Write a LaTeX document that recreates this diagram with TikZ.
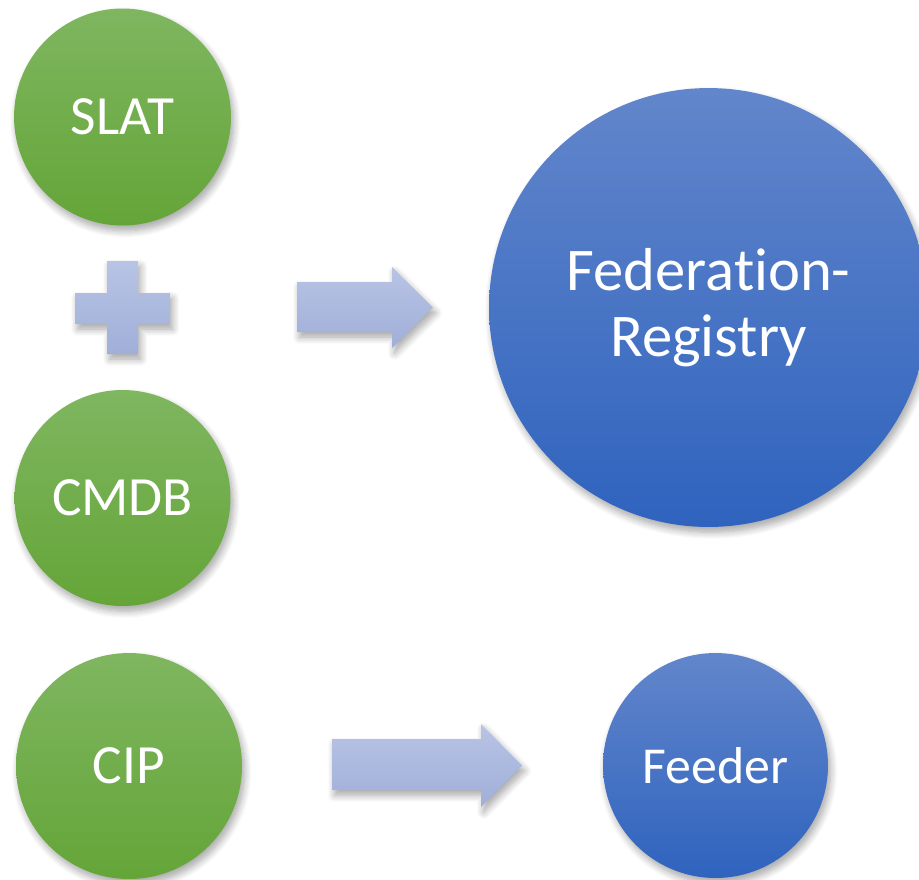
\documentclass[tikz,border=0pt]{standalone}
\usepackage{fontspec}
\setmainfont{Carlito}[Ligatures = NoCommon]
\usepackage{tikz}
\usetikzlibrary{shadows.blur}
\tikzset{>=latex}
\definecolor{mygreen1}{RGB}{127, 182, 96}
\definecolor{mygreen2}{RGB}{100, 165, 56}
\definecolor{myblue1}{RGB}{98, 134, 203}
\definecolor{myblue2}{RGB}{47, 99, 190}
\definecolor{mylav1}{RGB}{184, 196, 229}
\definecolor{mylav2}{RGB}{160, 175, 217}
\tikzset{
  softshadow/.style = {blur shadow = {shadow xshift = 1.5pt, shadow yshift = -3pt, shadow blur radius = 4pt, shadow blur steps = 8, shadow opacity = 35}},
  greenball/.style = {circle, inner sep = 0pt, top color = mygreen1, bottom color = mygreen2, text = white, font = \fontsize{31.5}{36}\selectfont, softshadow},
  blueball/.style = {circle, inner sep = 0pt, top color = myblue1, bottom color = myblue2, text = white, softshadow},
  bigarrow/.style = {top color = mylav1, bottom color = mylav2, softshadow}
}

\begin{document}
\begin{tikzpicture}[x = 0.02cm, y = -0.02cm]
\useasboundingbox (0, 0) rectangle (919, 879);
% sources
\node[greenball, minimum size = 4.34cm] (slat) at (122.5, 117) {SLAT};
\node[greenball, minimum size = 4.32cm] (cmdb) at (122.5, 498) {CMDB};
\node[greenball, minimum size = 4.52cm] (cip) at (129, 766) {CIP};
% plus sign
\shade[bigarrow] (107, 261) -- (138, 261) -- (138, 293) -- (170, 293) -- (170, 324) -- (138, 324) -- (138, 354) -- (107, 354) -- (107, 324) -- (75, 324) -- (75, 293) -- (107, 293) -- cycle;
% block arrows
\shade[bigarrow] (297, 282) -- (392, 282) -- (392, 267) -- (433, 307.5) -- (392, 348) -- (392, 332) -- (297, 332) -- cycle;
\shade[bigarrow] (332, 739) -- (481, 739) -- (481, 724) -- (522, 765.5) -- (481, 807) -- (481, 790) -- (332, 790) -- cycle;
% targets
\node[blueball, minimum size = 8.78cm, align = center, font = \fontsize{34.5}{37.5}\selectfont] (fedreg) at (708.5, 307.5) {Federation-\\Registry};
\node[blueball, minimum size = 4.5cm, font = \fontsize{29.5}{36}\selectfont] (feeder) at (715.5, 765.5) {Feeder};
\end{tikzpicture}
\end{document}
